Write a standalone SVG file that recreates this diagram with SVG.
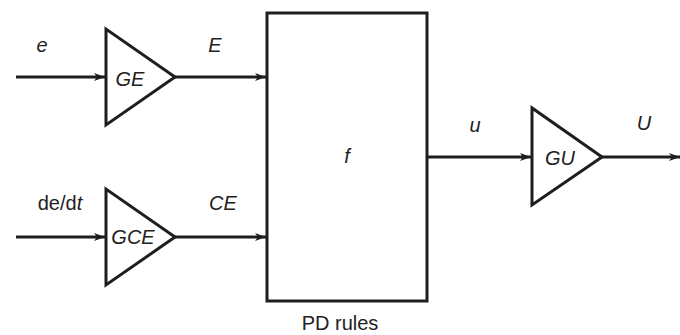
<svg xmlns="http://www.w3.org/2000/svg" width="680" height="335" viewBox="0 0 680 335">
<defs>
<marker id="ah" markerUnits="userSpaceOnUse" markerWidth="12" markerHeight="10" refX="11" refY="5" orient="auto">
<path d="M0,1 L11,5 L0,9 L3,5 Z" fill="#1e1e1e"/>
</marker>
<style>
.blk{fill:#fff;stroke:#1e1e1e;stroke-width:3;stroke-linejoin:miter}
.ln{stroke:#1e1e1e;stroke-width:3;fill:none;marker-end:url(#ah)}
.t{font-family:"Liberation Sans",Arial,sans-serif;font-size:20px;fill:#222;text-anchor:middle}
.i{font-style:italic}
</style>
</defs>
<rect width="680" height="335" fill="#fff"/>
<g id="connectors">
<line class="ln" x1="16" y1="77" x2="105" y2="77"/>
<line class="ln" x1="175" y1="77" x2="266" y2="77"/>
<line class="ln" x1="16" y1="237" x2="105" y2="237"/>
<line class="ln" x1="175" y1="237" x2="266" y2="237"/>
<line class="ln" x1="427" y1="157" x2="531" y2="157"/>
<line class="ln" x1="602" y1="157" x2="680" y2="157"/>
</g>
<g id="labels">
<text class="t i" x="42" y="52">e</text>
<text class="t i" x="215" y="52">E</text>
<text class="t" x="60" y="210">de/d<tspan class="i">t</tspan></text>
<text class="t i" x="223" y="210">CE</text>
<text class="t i" x="475" y="132">u</text>
<text class="t i" x="644" y="130">U</text>
</g>
<g id="GE">
<polygon class="blk" points="106,29 106,125 175,77"/>
<text class="t i" x="130" y="86">GE</text>
</g>
<g id="GCE">
<polygon class="blk" points="106,189 106,285 175,237"/>
<text class="t i" x="133" y="244">GCE</text>
</g>
<g id="f">
<rect class="blk" x="267" y="13" width="160" height="288"/>
<text class="t i" x="347" y="163">f</text>
<text class="t" x="340" y="330">PD rules</text>
</g>
<g id="GU">
<polygon class="blk" points="532,108 532,205 602,157"/>
<text class="t i" x="560" y="165">GU</text>
</g>
</svg>
